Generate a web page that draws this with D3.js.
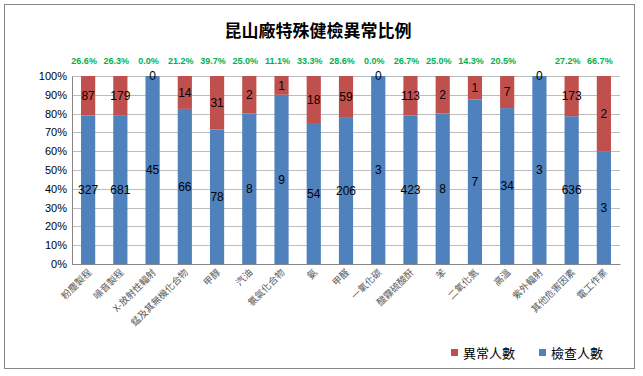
<!DOCTYPE html>
<html>
  <head>
    <meta charset="utf-8">
    <style>
      body { margin: 0; background: #fff; }
      svg { font-family: "Liberation Sans", "Noto Sans CJK TC", sans-serif; }
    </style>
  </head>
  <body>
    <svg></svg>
    <script src="https://d3js.org/d3.v7.min.js"></script>
    <script>
      // 昆山廠特殊健檢 - 各作業類別
      var categories = ["粉塵製程", "噪音製程", "X-放射性輻射", "錳及其無機化合物", "甲醇", "汽油",
        "氯氣化合物", "氨", "甲醛", "一氧化碳", "酸霧硫酸酐", "苯", "二氧化氮", "高溫",
        "紫外輻射", "其他危害因素", "電工作業"];
      var checked  = [327, 681, 45, 66, 78, 8, 9, 54, 206, 3, 423, 8, 7, 34, 3, 636, 3];
      var abnormal = [87, 179, 0, 14, 31, 2, 1, 18, 59, 0, 113, 2, 1, 7, 0, 173, 2];
      var pctLabels = ["26.6%", "26.3%", "0.0%", "21.2%", "39.7%", "25.0%", "11.1%", "33.3%", "28.6%",
        "0.0%", "26.7%", "25.0%", "14.3%", "20.5%", "", "27.2%", "66.7%"];
      var yTicks = [0, 0.1, 0.2, 0.3, 0.4, 0.5, 0.6, 0.7, 0.8, 0.9, 1];

      var svgWidth = 643, svgHeight = 376;
      var margin = { top: 76, right: 23, bottom: 112, left: 72 };
      var width = svgWidth - margin.left - margin.right;
      var height = svgHeight - margin.top - margin.bottom;
      var blue = "#4f81bd", red = "#c0504d";

      var svg = d3.select("svg")
        .attr("width", svgWidth)
        .attr("height", svgHeight);

      // chart border
      svg.append("rect")
        .attr("x", 4.5).attr("y", 4.5)
        .attr("width", 630).attr("height", 364)
        .attr("fill", "#fff")
        .attr("stroke", "#868686")
        .attr("stroke-width", 1);

      svg.append("text")
        .attr("x", 318).attr("y", 37)
        .attr("text-anchor", "middle")
        .attr("font-family", "'Noto Sans CJK TC', sans-serif")
        .attr("font-weight", "bold")
        .attr("font-size", 17)
        .text("昆山廠特殊健檢異常比例");

      var g = svg.append("g")
        .attr("transform", "translate(" + margin.left + "," + margin.top + ")");

      var rows = categories.map((c, i) => ({ cat: c, checked: checked[i], abnormal: abnormal[i], pct: pctLabels[i] }));

      var x = d3.scaleBand()
        .domain(categories)
        .range([0, width])
        .paddingInner(0.56)
        .paddingOuter(0.28);

      var y = d3.scaleLinear()
        .domain([0, 1])
        .range([height, 0]);

      // gridlines
      g.append("g")
        .selectAll("line")
        .data(yTicks)
        .join("line")
        .attr("x1", 0).attr("x2", width)
        .attr("y1", d => Math.round(y(d)) + 0.5)
        .attr("y2", d => Math.round(y(d)) + 0.5)
        .attr("stroke", "#bdbdbd")
        .attr("stroke-width", 1);

      var stack = d3.stack()
        .keys(["checked", "abnormal"])
        .offset(d3.stackOffsetExpand);
      var series = stack(rows);
      var colors = { checked: blue, abnormal: red };

      var layers = g.selectAll(".layer")
        .data(series)
        .join("g")
        .attr("class", "layer")
        .attr("fill", d => colors[d.key]);

      layers.selectAll("rect")
        .data(d => d)
        .join("rect")
        .attr("x", d => x(d.data.cat))
        .attr("width", x.bandwidth())
        .attr("y", d => y(d[1]))
        .attr("height", d => y(d[0]) - y(d[1]));

      // value labels in the middle of each segment
      series.forEach(s => {
        g.append("g")
          .selectAll("text")
          .data(s)
          .join("text")
          .attr("x", d => x(d.data.cat) + x.bandwidth() / 2)
          .attr("y", d => y((d[0] + d[1]) / 2))
          .attr("dy", "0.36em")
          .attr("text-anchor", "middle")
          .attr("font-size", 12)
          .attr("fill", "#000")
          .text(d => d.data[s.key]);
      });

      // axes
      var yAxis = g.append("g")
        .call(d3.axisLeft(y).tickValues(yTicks).tickFormat(d3.format(".0%")).tickSize(0).tickPadding(5));
      yAxis.select(".domain").attr("stroke", "#868686");
      yAxis.selectAll("text").attr("font-size", 11).attr("fill", "#000");

      var xAxis = g.append("g")
        .attr("transform", "translate(0," + height + ")")
        .call(d3.axisBottom(x).tickSize(0).tickPadding(0));
      xAxis.select(".domain").attr("stroke", "#868686");
      xAxis.selectAll("text")
        .attr("font-family", "'Noto Sans CJK TC', sans-serif")
        .attr("font-size", 9.5)
        .attr("fill", "#595959")
        .attr("text-anchor", "end")
        .attr("dy", null)
        .attr("y", 0)
        .attr("transform", "translate(4,9) rotate(-45)");

      // abnormal ratio labels above the bars
      g.append("g")
        .selectAll("text")
        .data(rows)
        .join("text")
        .attr("x", d => x(d.cat) + x.bandwidth() / 2 - 4)
        .attr("y", -12)
        .attr("text-anchor", "middle")
        .attr("font-size", 9)
        .attr("font-weight", "bold")
        .attr("fill", "#00b050")
        .text(d => d.pct);

      // legend
      var legendItems = [
        { name: "異常人數", color: red, x: 451 },
        { name: "檢查人數", color: blue, x: 539 }
      ];
      var legend = svg.append("g")
        .selectAll("g")
        .data(legendItems)
        .join("g")
        .attr("transform", d => "translate(" + d.x + ",349)");
      legend.append("rect")
        .attr("width", 7).attr("height", 7)
        .attr("fill", d => d.color);
      legend.append("text")
        .attr("x", 12).attr("y", 4)
        .attr("dy", "0.36em")
        .attr("font-family", "'Noto Sans CJK TC', sans-serif")
        .attr("font-size", 13)
        .attr("fill", "#000")
        .text(d => d.name);
    </script>
  </body>
</html>
